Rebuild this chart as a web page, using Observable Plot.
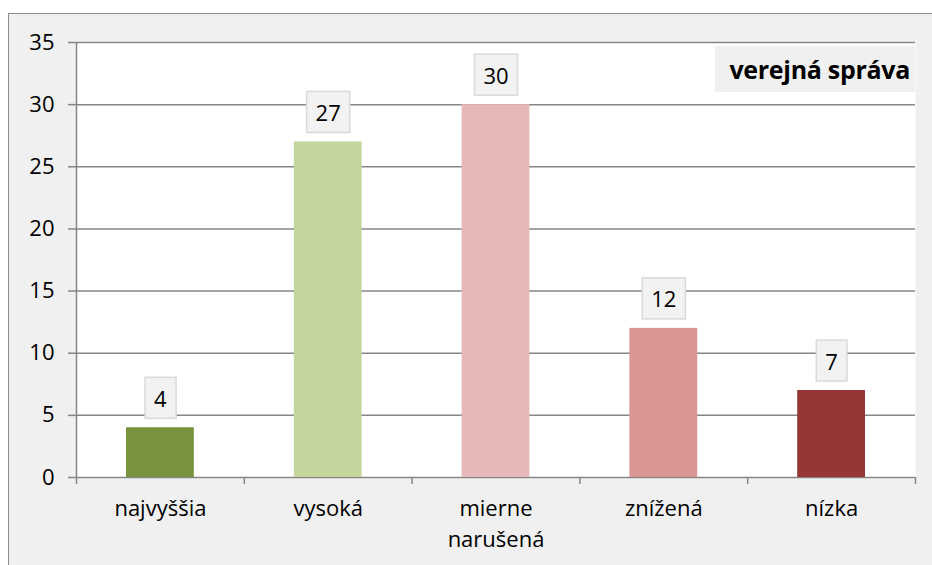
<!DOCTYPE html>
<html><head><meta charset="utf-8">
<script src="https://cdn.jsdelivr.net/npm/d3@7"></script>
<script src="https://cdn.jsdelivr.net/npm/@observablehq/plot@0.6"></script>
<style>
body{margin:0;background:#fff;}
#wrap{position:relative;width:932px;height:565px;overflow:hidden;font-family:"Open Sans",sans-serif;}
#bg{position:absolute;left:8px;top:13px;width:940px;height:560px;background:#f0f0f0;border-left:1.5px solid #8c8c8c;border-top:1.5px solid #8c8c8c;}
#chart{position:absolute;left:0;top:0;}
#title{position:absolute;left:715px;top:46px;width:200px;height:46px;background:#f0f0f0;box-sizing:border-box;padding-right:5px;text-align:right;font-weight:bold;font-size:25px;line-height:46px;color:#000;white-space:nowrap;letter-spacing:-0.3px;}
</style></head>
<body>
<div id="wrap"><div id="bg"></div><div id="chart"></div><div id="title"></div></div>
<script>
const categories = ["najvyššia", "vysoká", "mierne\nnarušená", "znížená", "nízka"];
const values = [4, 27, 30, 12, 7];
const colors = ["#77933c", "#c3d69b", "#e6b9b8", "#d99694", "#953735"];
const yTicks = [0, 5, 10, 15, 20, 25, 30, 35];
const title = "verejná správa";

const data = categories.map((c, i) => ({i, category: c, value: values[i], color: colors[i]}));

const plot = Plot.plot({
  width: 932, height: 565,
  marginLeft: 76, marginRight: 17, marginTop: 42, marginBottom: 88,
  style: {background: "transparent", fontFamily: "Open Sans", fontSize: "22px", color: "#000"},
  x: {type: "linear", domain: [0, categories.length], axis: null},
  y: {domain: [0, 35], axis: null},
  marks: [
    Plot.frame({fill: "white", stroke: null}),
    Plot.gridY(yTicks, {stroke: "#868686", strokeOpacity: 1, strokeWidth: 1.5}),
    Plot.ruleX([0], {stroke: "#868686", strokeWidth: 1.5}),
    Plot.axisY(yTicks, {tickSize: 8, tickPadding: 14, stroke: "#868686", strokeWidth: 1.5, fill: "#000", fontSize: 22, label: null}),
    Plot.axisX(d3.range(categories.length + 1), {tickSize: 7, tickFormat: () => "", stroke: "#868686", strokeWidth: 1.5, label: null}),
    Plot.axisX(data.map(d => d.i + 0.5), {tickSize: 0, tickPadding: 17, tickFormat: (d) => categories[Math.floor(d)], fill: "#000", fontSize: 22, lineHeight: 1.4, label: null}),
    Plot.rectY(data, {x1: "i", x2: d => d.i + 1, y: "value", fill: "color", insetLeft: 50, insetRight: 50}),
    Plot.text(data, {x: d => d.i + 0.5, y: "value", text: d => String(d.value), dy: -28, fontSize: 22, fill: "#000", className: "vlabel"})
  ]
});
document.getElementById("chart").append(plot);
document.getElementById("title").textContent = title;

d3.select(plot).selectAll("g.vlabel text").each(function() {
  const b = this.getBBox();
  const w = b.width + 18, h = 41;
  const r = document.createElementNS("http://www.w3.org/2000/svg", "rect");
  r.setAttribute("x", b.x + b.width / 2 - w / 2);
  r.setAttribute("y", b.y + b.height / 2 - h / 2);
  r.setAttribute("width", w);
  r.setAttribute("height", h);
  r.setAttribute("fill", "#f2f2f2");
  r.setAttribute("stroke", "#d9d9d9");
  r.setAttribute("stroke-width", 1.5);
  const t = this.getAttribute("transform");
  if (t) r.setAttribute("transform", t);
  this.parentNode.insertBefore(r, this);
});
</script>
</body></html>
